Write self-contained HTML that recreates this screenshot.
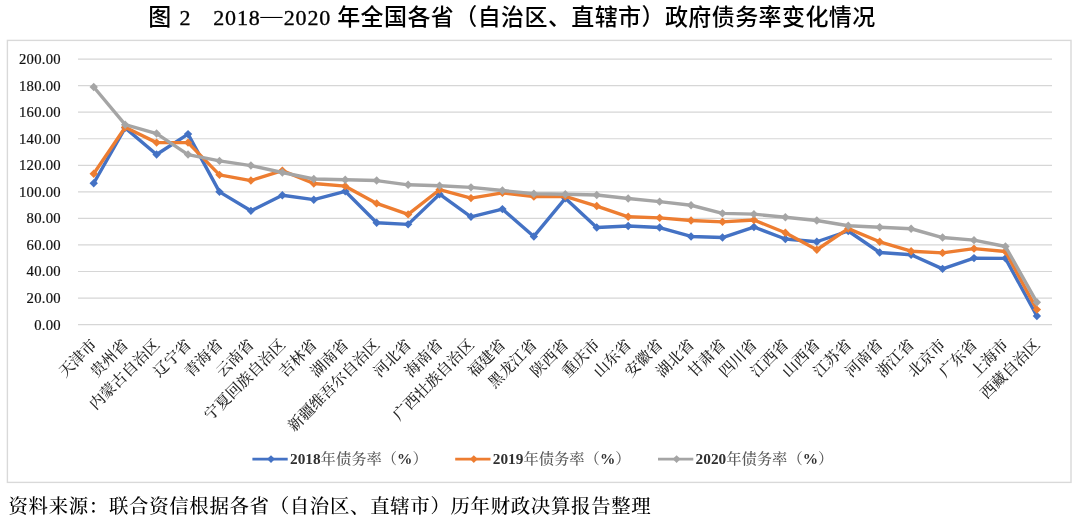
<!DOCTYPE html>
<html lang="zh-CN">
<head>
<meta charset="utf-8">
<title>图 2 2018－2020 年全国各省（自治区、直辖市）政府债务率变化情况</title>
<style>
html,body{margin:0;padding:0;background:#fff;}
body{width:1080px;height:521px;overflow:hidden;position:relative;}
svg{position:absolute;left:0;top:0;display:block;}
.t{font-family:"Liberation Serif","Noto Sans CJK SC",sans-serif;font-weight:500;fill:#000;}
.t .n{font-family:"Liberation Serif",serif;font-weight:400;stroke:#000;stroke-width:0.35px;}
.ax{font-family:"Liberation Serif","Noto Serif CJK SC",serif;fill:#111;stroke:#111;stroke-width:0.2px;}
.lab{font-family:"Liberation Serif","Noto Serif CJK SC",serif;fill:#262626;font-weight:500;}
.leg{font-family:"Liberation Serif","Noto Serif CJK SC",serif;fill:#595959;font-weight:500;}
.leg .n{font-weight:700;fill:#303030;}
.foot{font-family:"Liberation Serif","Noto Serif CJK SC",serif;fill:#000;font-weight:500;}
</style>
</head>
<body>
<svg width="1080" height="521" viewBox="0 0 1080 521">
<rect x="0" y="0" width="1080" height="521" fill="#ffffff"/>
<g class="t">
<text x="148.2" y="25.3" font-size="23" letter-spacing="0">图</text>
<text class="n" x="179.4" y="25" font-size="22" letter-spacing="0">2</text>
<text class="n" x="213.2" y="25" font-size="22" letter-spacing="0.85">2018</text>
<text x="0" y="25" font-size="22" font-weight="300" text-anchor="middle" transform="translate(271.3 0) scale(1.38 1)">－</text>
<text class="n" x="283.7" y="25" font-size="22" letter-spacing="0.85">2020</text>
<text x="337.2" y="25.3" font-size="23" letter-spacing="0.41">年全国各省（自治区、直辖市）政府债务率变化情况</text>
</g>
<rect x="7.4" y="40.4" width="1063.6" height="442.0" fill="#fff" stroke="#d9d9d9" stroke-width="1.4"/>
<line x1="78.0" y1="324.60" x2="1052.0" y2="324.60" stroke="#d6d6d6" stroke-width="1.2"/>
<line x1="78.0" y1="298.05" x2="1052.0" y2="298.05" stroke="#d6d6d6" stroke-width="1.2"/>
<line x1="78.0" y1="271.50" x2="1052.0" y2="271.50" stroke="#d6d6d6" stroke-width="1.2"/>
<line x1="78.0" y1="244.95" x2="1052.0" y2="244.95" stroke="#d6d6d6" stroke-width="1.2"/>
<line x1="78.0" y1="218.40" x2="1052.0" y2="218.40" stroke="#d6d6d6" stroke-width="1.2"/>
<line x1="78.0" y1="191.85" x2="1052.0" y2="191.85" stroke="#d6d6d6" stroke-width="1.2"/>
<line x1="78.0" y1="165.30" x2="1052.0" y2="165.30" stroke="#d6d6d6" stroke-width="1.2"/>
<line x1="78.0" y1="138.75" x2="1052.0" y2="138.75" stroke="#d6d6d6" stroke-width="1.2"/>
<line x1="78.0" y1="112.20" x2="1052.0" y2="112.20" stroke="#d6d6d6" stroke-width="1.2"/>
<line x1="78.0" y1="85.65" x2="1052.0" y2="85.65" stroke="#d6d6d6" stroke-width="1.2"/>
<line x1="78.0" y1="59.10" x2="1052.0" y2="59.10" stroke="#d6d6d6" stroke-width="1.2"/>
<text class="ax" x="60.9" letter-spacing="0.25" y="329.50" font-size="14.7" text-anchor="end">0.00</text>
<text class="ax" x="60.9" letter-spacing="0.25" y="302.95" font-size="14.7" text-anchor="end">20.00</text>
<text class="ax" x="60.9" letter-spacing="0.25" y="276.40" font-size="14.7" text-anchor="end">40.00</text>
<text class="ax" x="60.9" letter-spacing="0.25" y="249.85" font-size="14.7" text-anchor="end">60.00</text>
<text class="ax" x="60.9" letter-spacing="0.25" y="223.30" font-size="14.7" text-anchor="end">80.00</text>
<text class="ax" x="60.9" letter-spacing="0.25" y="196.75" font-size="14.7" text-anchor="end">100.00</text>
<text class="ax" x="60.9" letter-spacing="0.25" y="170.20" font-size="14.7" text-anchor="end">120.00</text>
<text class="ax" x="60.9" letter-spacing="0.25" y="143.65" font-size="14.7" text-anchor="end">140.00</text>
<text class="ax" x="60.9" letter-spacing="0.25" y="117.10" font-size="14.7" text-anchor="end">160.00</text>
<text class="ax" x="60.9" letter-spacing="0.25" y="90.55" font-size="14.7" text-anchor="end">180.00</text>
<text class="ax" x="60.9" letter-spacing="0.25" y="64.00" font-size="14.7" text-anchor="end">200.00</text>
<polyline points="93.72,183.22 125.16,127.86 156.60,154.55 188.04,134.10 219.47,191.85 250.91,210.83 282.35,195.30 313.79,199.68 345.23,191.32 376.67,222.78 408.11,224.37 439.55,194.24 470.98,216.81 502.42,209.11 533.86,236.45 565.30,198.35 596.74,227.56 628.18,225.97 659.62,227.56 691.05,236.45 722.49,237.52 753.93,227.03 785.37,238.98 816.81,241.76 848.25,231.01 879.69,252.52 911.13,254.77 942.56,268.85 974.00,258.09 1005.44,258.36 1036.88,315.97" fill="none" stroke="#4472c4" stroke-width="3.4" stroke-linejoin="round" stroke-linecap="round"/>
<path d="M93.72 179.02L97.92 183.22L93.72 187.42L89.52 183.22Z" fill="#4472c4"/>
<path d="M125.16 123.66L129.36 127.86L125.16 132.06L120.96 127.86Z" fill="#4472c4"/>
<path d="M156.60 150.35L160.80 154.55L156.60 158.75L152.40 154.55Z" fill="#4472c4"/>
<path d="M188.04 129.90L192.24 134.10L188.04 138.30L183.84 134.10Z" fill="#4472c4"/>
<path d="M219.47 187.65L223.67 191.85L219.47 196.05L215.27 191.85Z" fill="#4472c4"/>
<path d="M250.91 206.63L255.11 210.83L250.91 215.03L246.71 210.83Z" fill="#4472c4"/>
<path d="M282.35 191.10L286.55 195.30L282.35 199.50L278.15 195.30Z" fill="#4472c4"/>
<path d="M313.79 195.48L317.99 199.68L313.79 203.88L309.59 199.68Z" fill="#4472c4"/>
<path d="M345.23 187.12L349.43 191.32L345.23 195.52L341.03 191.32Z" fill="#4472c4"/>
<path d="M376.67 218.58L380.87 222.78L376.67 226.98L372.47 222.78Z" fill="#4472c4"/>
<path d="M408.11 220.17L412.31 224.37L408.11 228.57L403.91 224.37Z" fill="#4472c4"/>
<path d="M439.55 190.04L443.75 194.24L439.55 198.44L435.35 194.24Z" fill="#4472c4"/>
<path d="M470.98 212.61L475.18 216.81L470.98 221.01L466.78 216.81Z" fill="#4472c4"/>
<path d="M502.42 204.91L506.62 209.11L502.42 213.31L498.22 209.11Z" fill="#4472c4"/>
<path d="M533.86 232.25L538.06 236.45L533.86 240.65L529.66 236.45Z" fill="#4472c4"/>
<path d="M565.30 194.15L569.50 198.35L565.30 202.55L561.10 198.35Z" fill="#4472c4"/>
<path d="M596.74 223.36L600.94 227.56L596.74 231.76L592.54 227.56Z" fill="#4472c4"/>
<path d="M628.18 221.77L632.38 225.97L628.18 230.17L623.98 225.97Z" fill="#4472c4"/>
<path d="M659.62 223.36L663.82 227.56L659.62 231.76L655.42 227.56Z" fill="#4472c4"/>
<path d="M691.05 232.25L695.25 236.45L691.05 240.65L686.85 236.45Z" fill="#4472c4"/>
<path d="M722.49 233.32L726.69 237.52L722.49 241.72L718.29 237.52Z" fill="#4472c4"/>
<path d="M753.93 222.83L758.13 227.03L753.93 231.23L749.73 227.03Z" fill="#4472c4"/>
<path d="M785.37 234.78L789.57 238.98L785.37 243.18L781.17 238.98Z" fill="#4472c4"/>
<path d="M816.81 237.56L821.01 241.76L816.81 245.96L812.61 241.76Z" fill="#4472c4"/>
<path d="M848.25 226.81L852.45 231.01L848.25 235.21L844.05 231.01Z" fill="#4472c4"/>
<path d="M879.69 248.32L883.89 252.52L879.69 256.72L875.49 252.52Z" fill="#4472c4"/>
<path d="M911.13 250.57L915.33 254.77L911.13 258.97L906.93 254.77Z" fill="#4472c4"/>
<path d="M942.56 264.65L946.76 268.85L942.56 273.05L938.36 268.85Z" fill="#4472c4"/>
<path d="M974.00 253.89L978.20 258.09L974.00 262.29L969.80 258.09Z" fill="#4472c4"/>
<path d="M1005.44 254.16L1009.64 258.36L1005.44 262.56L1001.24 258.36Z" fill="#4472c4"/>
<path d="M1036.88 311.77L1041.08 315.97L1036.88 320.17L1032.68 315.97Z" fill="#4472c4"/>
<polyline points="93.72,173.80 125.16,127.33 156.60,142.60 188.04,142.60 219.47,174.86 250.91,180.57 282.35,170.61 313.79,183.49 345.23,186.14 376.67,203.40 408.11,214.42 439.55,189.73 470.98,198.09 502.42,192.91 533.86,196.63 565.30,196.36 596.74,206.05 628.18,216.81 659.62,217.87 691.05,220.52 722.49,221.85 753.93,219.99 785.37,232.74 816.81,249.73 848.25,228.62 879.69,241.76 911.13,251.19 942.56,252.92 974.00,248.67 1005.44,251.45 1036.88,309.60" fill="none" stroke="#ed7d31" stroke-width="3.4" stroke-linejoin="round" stroke-linecap="round"/>
<path d="M93.72 169.60L97.92 173.80L93.72 178.00L89.52 173.80Z" fill="#ed7d31"/>
<path d="M125.16 123.13L129.36 127.33L125.16 131.53L120.96 127.33Z" fill="#ed7d31"/>
<path d="M156.60 138.40L160.80 142.60L156.60 146.80L152.40 142.60Z" fill="#ed7d31"/>
<path d="M188.04 138.40L192.24 142.60L188.04 146.80L183.84 142.60Z" fill="#ed7d31"/>
<path d="M219.47 170.66L223.67 174.86L219.47 179.06L215.27 174.86Z" fill="#ed7d31"/>
<path d="M250.91 176.37L255.11 180.57L250.91 184.77L246.71 180.57Z" fill="#ed7d31"/>
<path d="M282.35 166.41L286.55 170.61L282.35 174.81L278.15 170.61Z" fill="#ed7d31"/>
<path d="M313.79 179.29L317.99 183.49L313.79 187.69L309.59 183.49Z" fill="#ed7d31"/>
<path d="M345.23 181.94L349.43 186.14L345.23 190.34L341.03 186.14Z" fill="#ed7d31"/>
<path d="M376.67 199.20L380.87 203.40L376.67 207.60L372.47 203.40Z" fill="#ed7d31"/>
<path d="M408.11 210.22L412.31 214.42L408.11 218.62L403.91 214.42Z" fill="#ed7d31"/>
<path d="M439.55 185.53L443.75 189.73L439.55 193.93L435.35 189.73Z" fill="#ed7d31"/>
<path d="M470.98 193.89L475.18 198.09L470.98 202.29L466.78 198.09Z" fill="#ed7d31"/>
<path d="M502.42 188.71L506.62 192.91L502.42 197.11L498.22 192.91Z" fill="#ed7d31"/>
<path d="M533.86 192.43L538.06 196.63L533.86 200.83L529.66 196.63Z" fill="#ed7d31"/>
<path d="M565.30 192.16L569.50 196.36L565.30 200.56L561.10 196.36Z" fill="#ed7d31"/>
<path d="M596.74 201.85L600.94 206.05L596.74 210.25L592.54 206.05Z" fill="#ed7d31"/>
<path d="M628.18 212.61L632.38 216.81L628.18 221.01L623.98 216.81Z" fill="#ed7d31"/>
<path d="M659.62 213.67L663.82 217.87L659.62 222.07L655.42 217.87Z" fill="#ed7d31"/>
<path d="M691.05 216.32L695.25 220.52L691.05 224.72L686.85 220.52Z" fill="#ed7d31"/>
<path d="M722.49 217.65L726.69 221.85L722.49 226.05L718.29 221.85Z" fill="#ed7d31"/>
<path d="M753.93 215.79L758.13 219.99L753.93 224.19L749.73 219.99Z" fill="#ed7d31"/>
<path d="M785.37 228.54L789.57 232.74L785.37 236.94L781.17 232.74Z" fill="#ed7d31"/>
<path d="M816.81 245.53L821.01 249.73L816.81 253.93L812.61 249.73Z" fill="#ed7d31"/>
<path d="M848.25 224.42L852.45 228.62L848.25 232.82L844.05 228.62Z" fill="#ed7d31"/>
<path d="M879.69 237.56L883.89 241.76L879.69 245.96L875.49 241.76Z" fill="#ed7d31"/>
<path d="M911.13 246.99L915.33 251.19L911.13 255.39L906.93 251.19Z" fill="#ed7d31"/>
<path d="M942.56 248.72L946.76 252.92L942.56 257.12L938.36 252.92Z" fill="#ed7d31"/>
<path d="M974.00 244.47L978.20 248.67L974.00 252.87L969.80 248.67Z" fill="#ed7d31"/>
<path d="M1005.44 247.25L1009.64 251.45L1005.44 255.65L1001.24 251.45Z" fill="#ed7d31"/>
<path d="M1036.88 305.40L1041.08 309.60L1036.88 313.80L1032.68 309.60Z" fill="#ed7d31"/>
<polyline points="93.72,86.98 125.16,124.68 156.60,133.57 188.04,154.55 219.47,160.92 250.91,165.57 282.35,172.47 313.79,178.97 345.23,179.77 376.67,180.57 408.11,184.81 439.55,185.74 470.98,187.34 502.42,190.52 533.86,193.71 565.30,194.24 596.74,195.04 628.18,198.49 659.62,201.67 691.05,205.26 722.49,213.36 753.93,214.15 785.37,217.21 816.81,220.52 848.25,225.70 879.69,227.29 911.13,228.75 942.56,237.52 974.00,240.17 1005.44,246.54 1036.88,302.30" fill="none" stroke="#a5a5a5" stroke-width="3.4" stroke-linejoin="round" stroke-linecap="round"/>
<path d="M93.72 82.78L97.92 86.98L93.72 91.18L89.52 86.98Z" fill="#a5a5a5"/>
<path d="M125.16 120.48L129.36 124.68L125.16 128.88L120.96 124.68Z" fill="#a5a5a5"/>
<path d="M156.60 129.37L160.80 133.57L156.60 137.77L152.40 133.57Z" fill="#a5a5a5"/>
<path d="M188.04 150.35L192.24 154.55L188.04 158.75L183.84 154.55Z" fill="#a5a5a5"/>
<path d="M219.47 156.72L223.67 160.92L219.47 165.12L215.27 160.92Z" fill="#a5a5a5"/>
<path d="M250.91 161.37L255.11 165.57L250.91 169.77L246.71 165.57Z" fill="#a5a5a5"/>
<path d="M282.35 168.27L286.55 172.47L282.35 176.67L278.15 172.47Z" fill="#a5a5a5"/>
<path d="M313.79 174.77L317.99 178.97L313.79 183.17L309.59 178.97Z" fill="#a5a5a5"/>
<path d="M345.23 175.57L349.43 179.77L345.23 183.97L341.03 179.77Z" fill="#a5a5a5"/>
<path d="M376.67 176.37L380.87 180.57L376.67 184.77L372.47 180.57Z" fill="#a5a5a5"/>
<path d="M408.11 180.61L412.31 184.81L408.11 189.01L403.91 184.81Z" fill="#a5a5a5"/>
<path d="M439.55 181.54L443.75 185.74L439.55 189.94L435.35 185.74Z" fill="#a5a5a5"/>
<path d="M470.98 183.14L475.18 187.34L470.98 191.54L466.78 187.34Z" fill="#a5a5a5"/>
<path d="M502.42 186.32L506.62 190.52L502.42 194.72L498.22 190.52Z" fill="#a5a5a5"/>
<path d="M533.86 189.51L538.06 193.71L533.86 197.91L529.66 193.71Z" fill="#a5a5a5"/>
<path d="M565.30 190.04L569.50 194.24L565.30 198.44L561.10 194.24Z" fill="#a5a5a5"/>
<path d="M596.74 190.84L600.94 195.04L596.74 199.24L592.54 195.04Z" fill="#a5a5a5"/>
<path d="M628.18 194.29L632.38 198.49L628.18 202.69L623.98 198.49Z" fill="#a5a5a5"/>
<path d="M659.62 197.47L663.82 201.67L659.62 205.87L655.42 201.67Z" fill="#a5a5a5"/>
<path d="M691.05 201.06L695.25 205.26L691.05 209.46L686.85 205.26Z" fill="#a5a5a5"/>
<path d="M722.49 209.16L726.69 213.36L722.49 217.56L718.29 213.36Z" fill="#a5a5a5"/>
<path d="M753.93 209.95L758.13 214.15L753.93 218.35L749.73 214.15Z" fill="#a5a5a5"/>
<path d="M785.37 213.01L789.57 217.21L785.37 221.41L781.17 217.21Z" fill="#a5a5a5"/>
<path d="M816.81 216.32L821.01 220.52L816.81 224.72L812.61 220.52Z" fill="#a5a5a5"/>
<path d="M848.25 221.50L852.45 225.70L848.25 229.90L844.05 225.70Z" fill="#a5a5a5"/>
<path d="M879.69 223.09L883.89 227.29L879.69 231.49L875.49 227.29Z" fill="#a5a5a5"/>
<path d="M911.13 224.55L915.33 228.75L911.13 232.95L906.93 228.75Z" fill="#a5a5a5"/>
<path d="M942.56 233.32L946.76 237.52L942.56 241.72L938.36 237.52Z" fill="#a5a5a5"/>
<path d="M974.00 235.97L978.20 240.17L974.00 244.37L969.80 240.17Z" fill="#a5a5a5"/>
<path d="M1005.44 242.34L1009.64 246.54L1005.44 250.74L1001.24 246.54Z" fill="#a5a5a5"/>
<path d="M1036.88 298.10L1041.08 302.30L1036.88 306.50L1032.68 302.30Z" fill="#a5a5a5"/>
<text class="lab" transform="translate(97.72 345.60) rotate(-45)" font-size="15.3" text-anchor="end">天津市</text>
<text class="lab" transform="translate(129.16 345.60) rotate(-45)" font-size="15.3" text-anchor="end">贵州省</text>
<text class="lab" transform="translate(160.60 345.60) rotate(-45)" font-size="15.3" text-anchor="end">内蒙古自治区</text>
<text class="lab" transform="translate(192.04 345.60) rotate(-45)" font-size="15.3" text-anchor="end">辽宁省</text>
<text class="lab" transform="translate(223.47 345.60) rotate(-45)" font-size="15.3" text-anchor="end">青海省</text>
<text class="lab" transform="translate(254.91 345.60) rotate(-45)" font-size="15.3" text-anchor="end">云南省</text>
<text class="lab" transform="translate(286.35 345.60) rotate(-45)" font-size="15.3" text-anchor="end">宁夏回族自治区</text>
<text class="lab" transform="translate(317.79 345.60) rotate(-45)" font-size="15.3" text-anchor="end">吉林省</text>
<text class="lab" transform="translate(349.23 345.60) rotate(-45)" font-size="15.3" text-anchor="end">湖南省</text>
<text class="lab" transform="translate(380.67 345.60) rotate(-45)" font-size="15.3" text-anchor="end">新疆维吾尔自治区</text>
<text class="lab" transform="translate(412.11 345.60) rotate(-45)" font-size="15.3" text-anchor="end">河北省</text>
<text class="lab" transform="translate(443.55 345.60) rotate(-45)" font-size="15.3" text-anchor="end">海南省</text>
<text class="lab" transform="translate(474.98 345.60) rotate(-45)" font-size="15.3" text-anchor="end">广西壮族自治区</text>
<text class="lab" transform="translate(506.42 345.60) rotate(-45)" font-size="15.3" text-anchor="end">福建省</text>
<text class="lab" transform="translate(537.86 345.60) rotate(-45)" font-size="15.3" text-anchor="end">黑龙江省</text>
<text class="lab" transform="translate(569.30 345.60) rotate(-45)" font-size="15.3" text-anchor="end">陕西省</text>
<text class="lab" transform="translate(600.74 345.60) rotate(-45)" font-size="15.3" text-anchor="end">重庆市</text>
<text class="lab" transform="translate(632.18 345.60) rotate(-45)" font-size="15.3" text-anchor="end">山东省</text>
<text class="lab" transform="translate(663.62 345.60) rotate(-45)" font-size="15.3" text-anchor="end">安徽省</text>
<text class="lab" transform="translate(695.05 345.60) rotate(-45)" font-size="15.3" text-anchor="end">湖北省</text>
<text class="lab" transform="translate(726.49 345.60) rotate(-45)" font-size="15.3" text-anchor="end">甘肃省</text>
<text class="lab" transform="translate(757.93 345.60) rotate(-45)" font-size="15.3" text-anchor="end">四川省</text>
<text class="lab" transform="translate(789.37 345.60) rotate(-45)" font-size="15.3" text-anchor="end">江西省</text>
<text class="lab" transform="translate(820.81 345.60) rotate(-45)" font-size="15.3" text-anchor="end">山西省</text>
<text class="lab" transform="translate(852.25 345.60) rotate(-45)" font-size="15.3" text-anchor="end">江苏省</text>
<text class="lab" transform="translate(883.69 345.60) rotate(-45)" font-size="15.3" text-anchor="end">河南省</text>
<text class="lab" transform="translate(915.13 345.60) rotate(-45)" font-size="15.3" text-anchor="end">浙江省</text>
<text class="lab" transform="translate(946.56 345.60) rotate(-45)" font-size="15.3" text-anchor="end">北京市</text>
<text class="lab" transform="translate(978.00 345.60) rotate(-45)" font-size="15.3" text-anchor="end">广东省</text>
<text class="lab" transform="translate(1009.44 345.60) rotate(-45)" font-size="15.3" text-anchor="end">上海市</text>
<text class="lab" transform="translate(1040.88 345.60) rotate(-45)" font-size="15.3" text-anchor="end">西藏自治区</text>
<line x1="252.4" y1="459.1" x2="287.7" y2="459.1" stroke="#4472c4" stroke-width="2.8"/>
<path d="M271.0 455.20000000000005L274.9 459.1L271.0 463.0L267.1 459.1Z" fill="#4472c4"/>
<text class="leg" x="290.0" y="464.3" font-size="15.3"><tspan class="n">2018</tspan>年债务率（<tspan class="n">%</tspan>）</text>
<line x1="455.2" y1="459.1" x2="490.5" y2="459.1" stroke="#ed7d31" stroke-width="2.8"/>
<path d="M473.8 455.20000000000005L477.7 459.1L473.8 463.0L469.90000000000003 459.1Z" fill="#ed7d31"/>
<text class="leg" x="492.8" y="464.3" font-size="15.3"><tspan class="n">2019</tspan>年债务率（<tspan class="n">%</tspan>）</text>
<line x1="658.0" y1="459.1" x2="693.3" y2="459.1" stroke="#a5a5a5" stroke-width="2.8"/>
<path d="M676.6 455.20000000000005L680.5 459.1L676.6 463.0L672.7 459.1Z" fill="#a5a5a5"/>
<text class="leg" x="695.6" y="464.3" font-size="15.3"><tspan class="n">2020</tspan>年债务率（<tspan class="n">%</tspan>）</text>
<text class="foot" x="8.5" y="512.5" font-size="19.4" letter-spacing="0.7">资料来源：联合资信根据各省（自治区、直辖市）历年财政决算报告整理</text>
</svg>
</body>
</html>
